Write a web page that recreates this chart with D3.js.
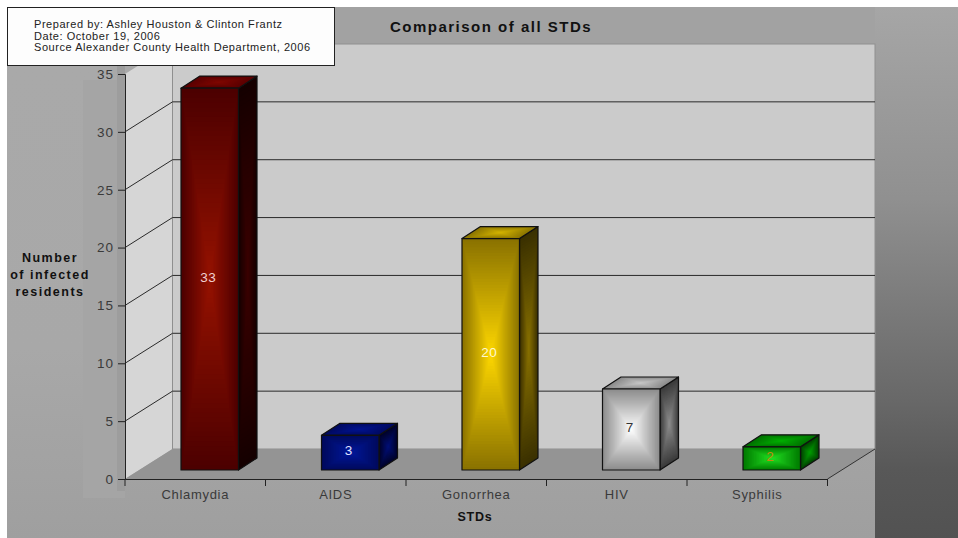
<!DOCTYPE html>
<html>
<head>
<meta charset="utf-8">
<script src="https://cdn.jsdelivr.net/npm/d3@7"></script>
<style>
html,body{margin:0;padding:0;background:#fff;}
svg{display:block;}
text{font-family:"Liberation Sans",Arial,sans-serif;}
</style>
</head>
<body>
<svg id="chart" width="958" height="538"></svg>
<script>
// Reported cases by disease
const categories = ["Chlamydia", "AIDS", "Gonorrhea", "HIV", "Syphilis"];
const cases = [33, 3, 20, 7, 2];
const yTicks = [0, 5, 10, 15, 20, 25, 30, 35];
const noteLines = [
  "Prepared by: Ashley Houston & Clinton Frantz",
  "Date: October 19, 2006",
  "Source Alexander County Health Department, 2006"
];
const yTitleLines = ["Number", "of infected", "residents"];
// edge and centre shades for the front, top and side of each box
const frontEdge = ["#4c0000", "#000a5c", "#8a7200", "#8c8c8c", "#007a00"];
const frontCentre = ["#961200", "#00189c", "#ffd800", "#ffffff", "#22e022"];
const sideEdge = ["#150000", "#000428", "#3a3000", "#3a3a3a", "#004000"];
const sideCentre = ["#3c0000", "#001078", "#8a7200", "#8e8e8e", "#00a000"];
const topEdge = ["#5a0000", "#000a60", "#8a7400", "#8a8a8a", "#007000"];
const topCentre = ["#800800", "#001490", "#d4b400", "#c8c8c8", "#00b000"];
const labelColours = ["#f0d0d0", "#e0e4ff", "#fff8d0", "#333333", "#c08a10"];

const svg = d3.select("#chart");
const defs = svg.append("defs");

const depth = {x: 47.5, y: -30};    // wall and floor offset
const inset = 9;                    // boxes stand this far in from the axis plane
const box = {x: 18.5, y: -12};      // box depth

const y = d3.scaleLinear().domain([0, 35]).range([479, 74]);
const x = d3.scaleBand().domain(categories).range([125, 827.5]);
const left = x.range()[0], right = x.range()[1];

// Page background
function verticalGradient(id, stops) {
  const g = defs.append("linearGradient").attr("id", id)
    .attr("x1", 0).attr("y1", 0).attr("x2", 0).attr("y2", 1);
  stops.forEach(s => g.append("stop").attr("offset", s[0]).attr("stop-color", s[1]));
}
verticalGradient("bgRight", [[0, "#a6a6a6"], [0.36, "#909090"], [0.74, "#686868"], [0.87, "#585858"], [1, "#525252"]]);
verticalGradient("bgLeft", [[0, "#a9a9a9"], [0.6, "#a8a8a8"], [1, "#9f9f9f"]]);

svg.append("rect").attr("x", 7).attr("y", 7).attr("width", 951).attr("height", 531).attr("fill", "#a2a2a2");
svg.append("rect").attr("x", 7).attr("y", 66).attr("width", 868).attr("height", 472).attr("fill", "url(#bgLeft)");
svg.append("rect").attr("x", 83).attr("y", 80).attr("width", 42).attr("height", 418).attr("fill", "#a5a5a5");
svg.append("rect").attr("x", 117).attr("y", 66).attr("width", 8).attr("height", 425).attr("fill", "#9d9d9d");
svg.append("rect").attr("x", right + depth.x).attr("y", 7).attr("width", 958 - right - depth.x).attr("height", 531).attr("fill", "url(#bgRight)");

const pts = a => a.map(p => p.join(",")).join(" ");
const yTop = y(35), y0 = y(0);

// Side wall, back wall and floor
svg.append("polygon").attr("fill", "#d6d6d6").attr("points", pts([
  [left, yTop], [left + depth.x, yTop + depth.y], [left + depth.x, y0 + depth.y], [left, y0]]));
svg.append("rect").attr("x", left + depth.x).attr("y", yTop + depth.y)
  .attr("width", right - left).attr("height", y0 - yTop)
  .attr("fill", "#cbcbcb").attr("stroke", "#8f8f8f").attr("stroke-width", 1);
svg.append("polygon").attr("fill", "#949494").attr("points", pts([
  [left, y0], [left + depth.x, y0 + depth.y], [right + depth.x, y0 + depth.y], [right, y0]]));

// Gridlines run along the side wall and across the back wall
const gridVals = yTicks.filter(v => v > 0 && v < 35);
const grid = svg.append("g").attr("fill", "none").attr("stroke", "#2a2a2a").attr("stroke-width", 1);
grid.selectAll("polyline").data(gridVals).join("polyline")
  .attr("points", v => pts([[left, y(v)], [left + depth.x, y(v) + depth.y], [right + depth.x, y(v) + depth.y]]));

// Right-hand floor edge
svg.append("line").attr("x1", right).attr("y1", y0).attr("x2", right + depth.x).attr("y2", y0 + depth.y)
  .attr("stroke", "#333").attr("stroke-width", 1);

// Axes
const yAxis = svg.append("g").attr("transform", `translate(${left},0)`)
  .call(d3.axisLeft(y).tickValues(yTicks).tickSize(7).tickPadding(4));
yAxis.select(".domain").attr("stroke", "#222");
yAxis.selectAll(".tick line").attr("stroke", "#222");
yAxis.selectAll("text").attr("font-size", 13.5).attr("fill", "#3a3a3a").attr("letter-spacing", 1)
  .attr("font-family", '"Liberation Sans",Arial,sans-serif');

const xAxis = svg.append("g").attr("transform", `translate(0,${y0})`)
  .call(d3.axisBottom(x).tickSize(0).tickPadding(11).tickSizeOuter(0));
xAxis.select(".domain").attr("stroke", "#222");
xAxis.selectAll("text").attr("font-size", 13).attr("fill", "#3a3a3a").attr("letter-spacing", 0.7)
  .attr("font-family", '"Liberation Sans",Arial,sans-serif');
svg.append("g").attr("stroke", "#222")
  .selectAll("line").data(categories.map((c, i) => i).concat(categories.length)).join("line")
  .attr("x1", i => left + i * x.bandwidth()).attr("x2", i => left + i * x.bandwidth())
  .attr("y1", y0).attr("y2", y0 + 7);

// Fills a quad with concentric bands that brighten towards its middle
function shadedQuad(parent, quad, edge, centre) {
  const steps = 40;
  const cx = d3.mean(quad, p => p[0]), cy = d3.mean(quad, p => p[1]);
  const mix = d3.interpolateRgb(edge, centre);
  const g = parent.append("g");
  d3.range(steps).forEach(i => {
    const t = i / steps;
    g.append("polygon")
      .attr("fill", mix(t))
      .attr("points", pts(quad.map(p => [p[0] + (cx - p[0]) * t, p[1] + (cy - p[1]) * t])));
  });
  g.append("polygon").attr("fill", "none").attr("stroke", "#111")
    .attr("stroke-width", 1.2).attr("stroke-linejoin", "round").attr("points", pts(quad));
}

// Boxes
const barInset = 56, barWidth = 57.5;
const bars = svg.append("g");
categories.forEach((c, i) => {
  const x0 = x(c) + barInset, x1 = x0 + barWidth;
  const base = y(0) - inset, top = y(cases[i]) - inset;
  const g = bars.append("g");
  shadedQuad(g, [[x1, top], [x1 + box.x, top + box.y], [x1 + box.x, base + box.y], [x1, base]], sideEdge[i], sideCentre[i]);
  shadedQuad(g, [[x0, top], [x0 + box.x, top + box.y], [x1 + box.x, top + box.y], [x1, top]], topEdge[i], topCentre[i]);
  shadedQuad(g, [[x0, top], [x1, top], [x1, base], [x0, base]], frontEdge[i], frontCentre[i]);
  g.append("text").text(cases[i])
    .attr("x", (x0 + x1) / 2 - 1.5).attr("y", (top + base) / 2 - 1)
    .attr("text-anchor", "middle").attr("dominant-baseline", "middle")
    .attr("font-size", 13.5).attr("letter-spacing", 0.6).attr("fill", labelColours[i]);
});

// Titles
svg.append("text").text("Comparison of all STDs")
  .attr("x", 491).attr("y", 32).attr("text-anchor", "middle")
  .attr("font-size", 15).attr("font-weight", "bold").attr("letter-spacing", 1.5).attr("fill", "#111");
svg.append("text").text("STDs")
  .attr("x", 475).attr("y", 521).attr("text-anchor", "middle")
  .attr("font-size", 12.5).attr("font-weight", "bold").attr("letter-spacing", 0.8).attr("fill", "#111");
svg.append("text").attr("text-anchor", "middle").attr("font-size", 12.5)
  .attr("font-weight", "bold").attr("letter-spacing", 1.5).attr("fill", "#111")
  .selectAll("tspan").data(yTitleLines).join("tspan")
  .attr("x", 50).attr("y", (d, i) => 262 + i * 17).text(d => d);

// Preparer's note
svg.append("rect").attr("x", 7.5).attr("y", 7.5).attr("width", 327).attr("height", 58)
  .attr("fill", "#fdfdfd").attr("stroke", "#222");
svg.append("text").attr("font-size", 11).attr("letter-spacing", 0.55).attr("fill", "#222")
  .selectAll("tspan").data(noteLines).join("tspan")
  .attr("x", 34).attr("y", (d, i) => 28 + i * 11.5).text(d => d);
</script>
</body>
</html>
